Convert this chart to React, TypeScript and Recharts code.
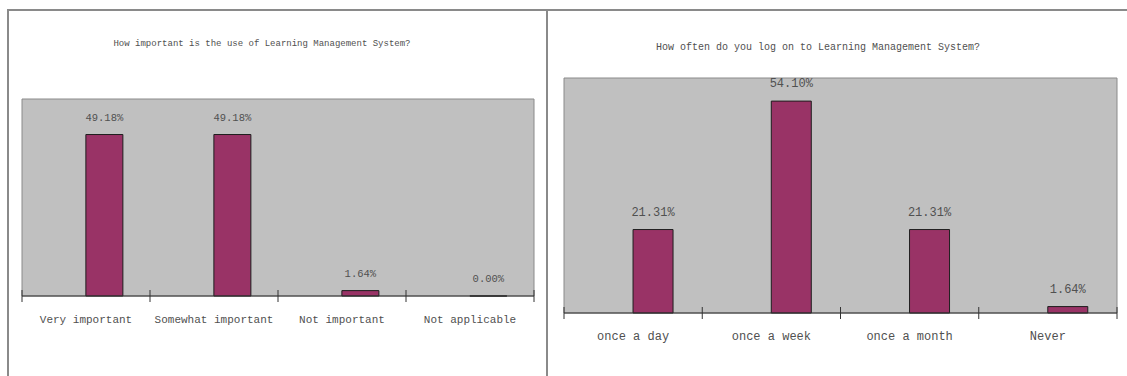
import React from "react";
import { BarChart, Bar, XAxis, YAxis, CartesianGrid, LabelList } from "recharts";

const importanceTitle = "How important is the use of Learning Management System?";
const importanceCategories = ["Very important", "Somewhat important", "Not important", "Not applicable"];
const importanceValues = [49.18, 49.18, 1.64, 0.0];

const frequencyTitle = "How often do you log on to Learning Management System?";
const frequencyCategories = ["once a day", "once a week", "once a month", "Never"];
const frequencyValues = [21.31, 54.1, 21.31, 1.64];

// the source sheet has an empty first series, which pushes the bars right of centre
const blankSeries = [null, null, null, null];

const FONT = '"Liberation Mono", "DejaVu Sans Mono", monospace';
const TEXT = "#505050";
const FRAME = "#8a8a8a";

const toRows = (cats: string[], vals: number[]) =>
  cats.map((name, i) => ({ name, blank: blankSeries[i], value: vals[i] }));

const CategoryTick = (props: any) => {
  const { x, y, payload, index, visibleTicksCount, width, fontSize } = props;
  const half = payload.offset ?? width / visibleTicksCount / 2;
  return (
    <g>
      <line x1={x - half} x2={x - half} y1={y - 6} y2={y + 6} stroke="#333" />
      {index === visibleTicksCount - 1 && (
        <line x1={x + half} x2={x + half} y1={y - 6} y2={y + 6} stroke="#333" />
      )}
      <text x={x} y={y + 23} dy="0.35em" textAnchor="middle" fontSize={fontSize} fontFamily={FONT} fill={TEXT}>
        {payload.value}
      </text>
    </g>
  );
};

interface ChartProps {
  rows: { name: string; blank: null; value: number }[];
  width: number;
  margin: { top: number; right: number; bottom: number; left: number };
  tickFont: number;
  labelFont: number;
}

const SurveyChart: React.FC<ChartProps> = ({ rows, width, margin, tickFont, labelFont }) => (
  <BarChart width={width} height={376} data={rows} margin={margin} barCategoryGap="21%" barGap={0}>
    <CartesianGrid
      fill="#c0c0c0"
      stroke={FRAME}
      horizontalCoordinatesGenerator={({ offset }: any) => [offset.top, offset.top + offset.height]}
      verticalCoordinatesGenerator={({ offset }: any) => [offset.left, offset.left + offset.width]}
    />
    <XAxis
      dataKey="name"
      height={30}
      interval={0}
      tickSize={0}
      tickMargin={0}
      tickLine={false}
      axisLine={{ stroke: "#333" }}
      tick={(p: any) => <CategoryTick {...p} fontSize={tickFont} />}
    />
    <YAxis hide domain={[0, 60]} />
    <Bar dataKey="blank" fill="none" isAnimationActive={false} />
    <Bar
      dataKey="value"
      fill="#993366"
      stroke="#1e1e1e"
      strokeWidth={1}
      minPointSize={(v: any) => (v === 0 ? 0.01 : 0)}
      isAnimationActive={false}
    >
      <LabelList
        dataKey="value"
        position="top"
        offset={14}
        formatter={(v: any) => `${Number(v).toFixed(2)}%`}
        style={{ fontSize: labelFont, fontFamily: FONT, fill: TEXT }}
      />
    </Bar>
  </BarChart>
);

const Title: React.FC<{ text: string; cx: number; cy: number; size: number }> = ({ text, cx, cy, size }) => (
  <div
    style={{
      position: "absolute",
      left: cx - 300,
      width: 600,
      top: cy - size * 0.6,
      lineHeight: `${size * 1.2}px`,
      fontSize: size,
      fontFamily: FONT,
      color: TEXT,
      textAlign: "center",
      whiteSpace: "nowrap",
    }}
  >
    {text}
  </div>
);

export default function App() {
  return (
    <div style={{ position: "absolute", left: 0, top: 0, width: 1127, height: 376, background: "#fff", overflow: "hidden" }}>
      <div style={{ position: "absolute", left: 7, top: 9, width: 1120, borderTop: `2px solid ${FRAME}` }} />
      <div style={{ position: "absolute", left: 7, top: 9, height: 367, borderLeft: `2px solid ${FRAME}` }} />
      <div style={{ position: "absolute", left: 546, top: 9, height: 367, borderLeft: `2px solid ${FRAME}` }} />

      <div style={{ position: "absolute", left: 0, top: 0 }}>
        <SurveyChart
          rows={toRows(importanceCategories, importanceValues)}
          width={547}
          margin={{ top: 99, right: 13, bottom: 50, left: 22 }}
          tickFont={11}
          labelFont={10.5}
        />
      </div>
      <div style={{ position: "absolute", left: 548, top: 0 }}>
        <SurveyChart
          rows={toRows(frequencyCategories, frequencyValues)}
          width={579}
          margin={{ top: 78, right: 10, bottom: 33, left: 16 }}
          tickFont={12}
          labelFont={12}
        />
      </div>

      <Title text={importanceTitle} cx={262} cy={44} size={9} />
      <Title text={frequencyTitle} cx={818} cy={48} size={10} />
    </div>
  );
}
